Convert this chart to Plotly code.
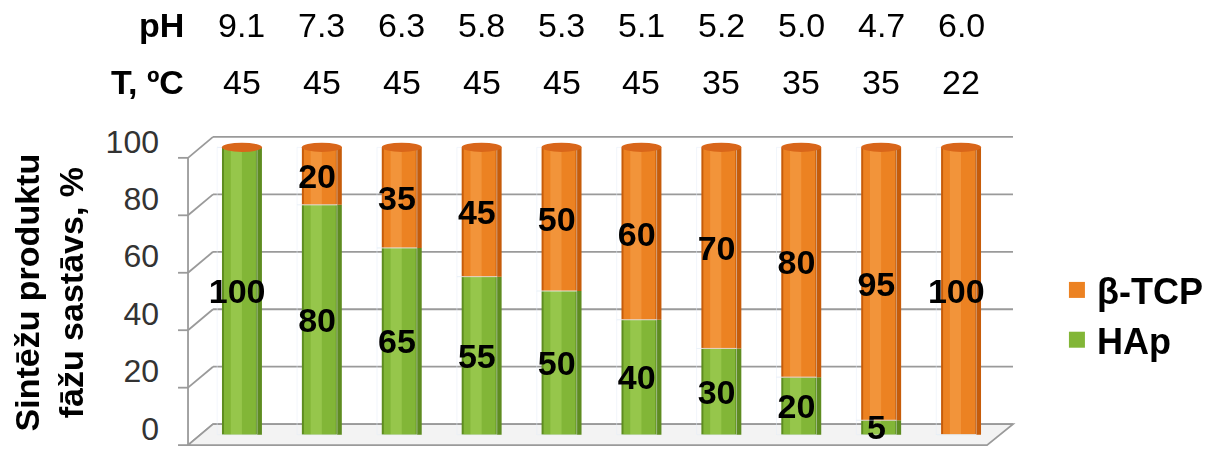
import plotly.graph_objects as go

# ---- data ----
samples = list(range(10))
ph_values = [9.1, 7.3, 6.3, 5.8, 5.3, 5.1, 5.2, 5.0, 4.7, 6.0]
temp_values = [45, 45, 45, 45, 45, 45, 35, 35, 35, 22]
hap = [100, 80, 65, 55, 50, 40, 30, 20, 5, 0]
tcp = [0, 20, 35, 45, 50, 60, 70, 80, 95, 100]
y_ticks = [0, 20, 40, 60, 80, 100]

FONT = "Arial, 'Liberation Sans', sans-serif"
totals = [a + b for a, b in zip(hap, tcp)]

fig = go.Figure()

def cylinder(y, base, dark, mid, light):
    fig.add_trace(go.Bar(x=samples, y=y, base=base, width=0.5, offset=-0.25,
                         marker=dict(color=dark, line=dict(width=0)),
                         showlegend=False, hoverinfo="skip"))
    fig.add_trace(go.Bar(x=samples, y=y, base=base, width=0.40, offset=-0.225,
                         marker=dict(color=mid, line=dict(width=0)),
                         showlegend=False, hoverinfo="skip"))
    fig.add_trace(go.Bar(x=samples, y=y, base=base, width=0.14, offset=-0.14,
                         marker=dict(color=light, line=dict(width=0)),
                         opacity=0.7, showlegend=False, hoverinfo="skip"))

cylinder(hap, [0] * len(hap), "#5e8c20", "#82b637", "#9fcd55")
cylinder(tcp, hap, "#c65c0a", "#ec8222", "#f59c45")

# value labels (transparent carriers)
def labels(y, base):
    fig.add_trace(go.Bar(x=samples, y=y, base=base, width=0.5, offset=-0.31,
                         marker=dict(color="rgba(0,0,0,0)"),
                         text=[str(v) if v > 0 else "" for v in y],
                         textposition="inside", insidetextanchor="middle",
                         constraintext="none", textangle=0, cliponaxis=False,
                         textfont=dict(family=FONT, size=34, color="black", weight="bold"),
                         showlegend=False, hoverinfo="skip"))

labels(hap, [0] * len(hap))
labels(tcp, hap)

# legend entries
fig.add_trace(go.Scatter(x=[None], y=[None], mode="markers", name="β-TCP",
                         marker=dict(symbol="square", size=16, color="#ec8222"), legendrank=1))
fig.add_trace(go.Scatter(x=[None], y=[None], mode="markers", name="HAp",
                         marker=dict(symbol="square", size=16, color="#82b637"), legendrank=2))

# ---- pseudo-3D frame ----
d = 3.65
grid_col = "#9a9a9a"
shapes = []
xl_front, xl_back, xr_back, xr_front = -0.0175, 0.0138, 1.015, 0.9825
for v in y_ticks:
    shapes.append(dict(type="line", xref="paper", yref="y", x0=xl_back, x1=xr_back,
                       y0=v + d, y1=v + d, line=dict(color=grid_col, width=1.8), layer="below"))
    shapes.append(dict(type="line", xref="paper", yref="y", x0=xl_front, x1=xl_back,
                       y0=v - d, y1=v + d, line=dict(color=grid_col, width=1.8), layer="below"))
    shapes.append(dict(type="line", xref="paper", yref="y", x0=-0.030, x1=xl_front,
                       y0=v - d, y1=v - d, line=dict(color=grid_col, width=1.8), layer="below"))
shapes.append(dict(type="line", xref="paper", yref="y", x0=xl_front, x1=xl_front,
                   y0=y_ticks[0] - d, y1=y_ticks[-1] - d, line=dict(color=grid_col, width=1.8), layer="below"))
shapes.append(dict(type="path", xref="paper", yref="y",
                   path=f"M {xl_front} {-d} L {xr_front} {-d} L {xr_back} {d} L {xl_back} {d} Z",
                   fillcolor="#f3f3f3", line=dict(color=grid_col, width=1.8), layer="below"))
# cylinder tops
for i, t in zip(samples, totals):
    shapes.append(dict(type="circle", xref="x", yref="y", x0=i - 0.25, x1=i + 0.25,
                       y0=t - 1.6, y1=t + 1.6, fillcolor="#d9661a",
                       line=dict(width=0), layer="above"))

annotations = []
top_font = dict(family=FONT, size=34, color="black")
annotations.append(dict(x=-0.02, xref="paper", y=1.342, yref="paper", text="<b>pH</b>",
                        showarrow=False, xanchor="right", yanchor="middle", font=top_font))
annotations.append(dict(x=-0.02, xref="paper", y=1.161, yref="paper", text="<b>T, ºC</b>",
                        showarrow=False, xanchor="right", yanchor="middle", font=top_font))
for i, p, t in zip(samples, ph_values, temp_values):
    annotations.append(dict(x=i, xref="x", y=1.342, yref="paper", text=f"{p:.1f}",
                            showarrow=False, xanchor="center", yanchor="middle", font=top_font))
    annotations.append(dict(x=i, xref="x", y=1.161, yref="paper", text=f"{t}",
                            showarrow=False, xanchor="center", yanchor="middle", font=top_font))
annotations.append(dict(x=-0.192, xref="paper", y=0.494, yref="paper",
                        text="<b>Sintēžu produktu<br>fāžu sastāvs, %</b>", textangle=-90,
                        showarrow=False, xanchor="center", yanchor="middle",
                        font=dict(family=FONT, size=34, color="black")))

fig.update_layout(
    width=1215, height=456,
    margin=dict(l=202, r=214, t=133, b=7),
    barmode="overlay",
    plot_bgcolor="white", paper_bgcolor="white",
    shapes=shapes, annotations=annotations,
    showlegend=True,
    legend=dict(x=1.07, xanchor="left", y=0.424, yanchor="middle",
                font=dict(family=FONT, size=36, color="black", weight="bold"),
                bgcolor="rgba(0,0,0,0)", itemsizing="trace"),
    xaxis=dict(range=[-0.5, 9.5], showticklabels=False, showgrid=False, zeroline=False,
               showline=False, fixedrange=True),
    yaxis=dict(range=[-5, 105], tickvals=y_ticks, showgrid=False, zeroline=False,
               showline=False, ticks="", ticklabelshift=-6, ticklabelstandoff=42,
               tickfont=dict(family=FONT, size=32, color="#333333")),
)

fig.write_html("out.html")
